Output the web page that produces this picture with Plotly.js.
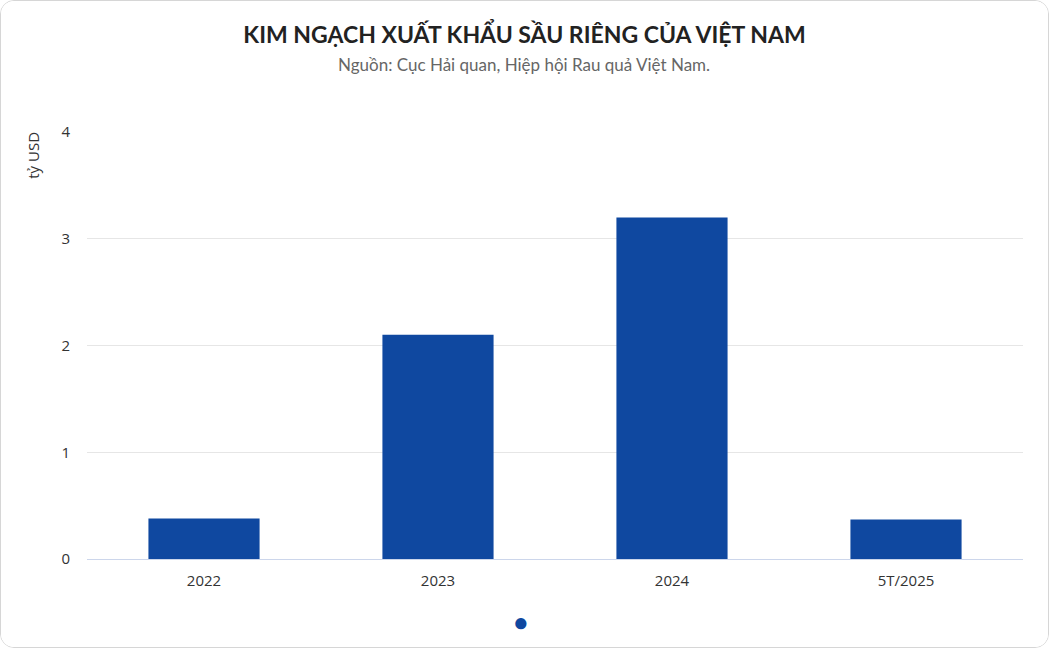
<!DOCTYPE html>
<html>
<head>
<meta charset="utf-8">
<script src="https://cdn.plot.ly/plotly-3.0.1.min.js"></script>
<style>
  html, body { margin: 0; padding: 0; background: #ffffff; }
  #chart { width: 1047px; height: 646px; border: 1px solid #d6d6d6; border-radius: 14px; overflow: hidden; }
</style>
</head>
<body>
<div id="chart"></div>
<script>
// số liệu (tỷ USD)
var categories = ["2022", "2023", "2024", "5T/2025"]
var values = [0.38, 2.1, 3.2, 0.37]
var yTicks = [0, 1, 2, 3, 4]

var barColor = "#0f48a0"

var data = [
    {
        type: "bar",
        x: categories,
        y: values,
        marker: {
            color: barColor
        },
        hoverinfo: "x+y",
        showlegend: false
    }
]

var layout = {
    width: 1047,
    height: 646,
    paper_bgcolor: "#ffffff",
    plot_bgcolor: "#ffffff",
    margin: {l: 86, r: 25, t: 131, b: 88},
    bargap: 0.525,
    font: {family: "Open Sans, sans-serif", color: "#333333"},
    title: {
        text: "<b>KIM NGẠCH XUẤT KHẨU SẦU RIÊNG CỦA VIỆT NAM</b>",
        font: {family: "Lato, sans-serif", size: 23, color: "#222222"},
        x: 0.5,
        xanchor: "center",
        y: 0.947,
        yanchor: "middle"
    },
    xaxis: {
        type: "category",
        tickfont: {size: 15, color: "#333333"},
        showgrid: false,
        showline: true,
        linecolor: "#ccd6eb",
        linewidth: 1,
        ticks: "",
        ticklabelstandoff: 8
    },
    yaxis: {
        range: [0, 4],
        tickvals: yTicks,
        ticktext: yTicks.map(String),
        tickfont: {size: 15, color: "#333333"},
        gridcolor: "#e6e6e6",
        gridwidth: 1,
        zeroline: false,
        showline: false,
        ticks: "",
        ticklabelstandoff: 16
    },
    annotations: [
        {
            text: "Nguồn: Cục Hải quan, Hiệp hội Rau quả Việt Nam.",
            xref: "paper", yref: "paper",
            x: 0.467, y: 1.157,
            xanchor: "center", yanchor: "middle",
            showarrow: false,
            font: {family: "Lato, sans-serif", size: 17, color: "#666666"}
        },
        {
            text: "tỷ USD",
            xref: "paper", yref: "paper",
            x: -0.058, y: 0.946,
            xanchor: "center", yanchor: "middle",
            textangle: -90,
            showarrow: false,
            font: {size: 15, color: "#333333"}
        },
        {
            text: "●",
            xref: "paper", yref: "paper",
            x: 0.464, y: -0.146,
            xanchor: "center", yanchor: "middle",
            showarrow: false,
            font: {size: 26, color: barColor}
        }
    ]
}

Plotly.newPlot("chart", data, layout, {displayModeBar: false})
</script>
</body>
</html>
